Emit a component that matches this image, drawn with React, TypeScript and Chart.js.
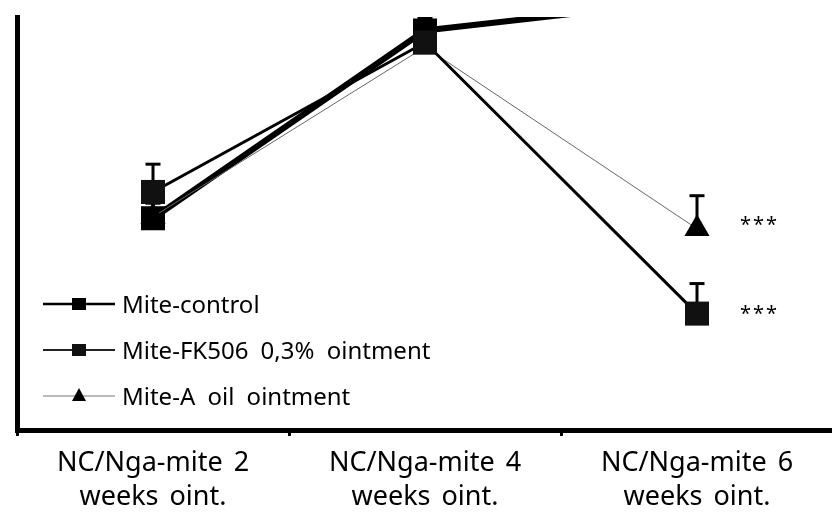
import React, { useEffect, useRef } from 'react';
import { Chart, registerables } from 'chart.js';

Chart.register(...registerables);

// ---------- data ----------
const categories: string[][] = [
  ['NC/Nga-mite 2', 'weeks oint.'],
  ['NC/Nga-mite 4', 'weeks oint.'],
  ['NC/Nga-mite 6', 'weeks oint.'],
];
const seriesNames = ['Mite-control', 'Mite-FK506 0,3% ointment', 'Mite-A oil ointment'];
const controlValues = [2.82, 5.32, 5.73];
const controlErrors = [0.2, 0.17, 0.2];
const fk506Values = [3.17, 5.16, 1.55];
const fk506Errors = [0.37, 0.1, 0.4];
const aOilValues = [2.84, 5.1, 2.68];
const aOilErrors = [0.2, 0.1, 0.44];
const fk506Significance = ['', '', '***'];
const aOilSignificance = ['', '', '***'];
const yMin = 0;
const yMax = 5.5;
const yStep = 1;

const FONT = "'Noto Sans', 'DejaVu Sans', sans-serif";

const spacingPlugin = {
  id: 'wordSpacing',
  beforeDraw(chart: any) {
    try { (chart.ctx as any).wordSpacing = '4px'; } catch (e) {}
  },
};

const errorBarPlugin = {
  id: 'errorBars',
  beforeDatasetsDraw(chart: any) {
    const { ctx, chartArea } = chart;
    const y = chart.scales.y;
    ctx.save();
    ctx.beginPath();
    ctx.rect(chartArea.left, chartArea.top, chartArea.right - chartArea.left, chartArea.bottom - chartArea.top);
    ctx.clip();
    chart.data.datasets.forEach((ds: any, i: number) => {
      const meta = chart.getDatasetMeta(i);
      if (!ds.errors) return;
      meta.data.forEach((pt: any, j: number) => {
        const v = ds.data[j];
        const e = ds.errors[j];
        if (!e) return;
        const px = pt.x;
        const py0 = y.getPixelForValue(v);
        const py1 = y.getPixelForValue(v + e);
        ctx.strokeStyle = '#000';
        ctx.lineWidth = 3;
        ctx.beginPath();
        ctx.moveTo(px, py0);
        ctx.lineTo(px, py1);
        ctx.stroke();
        ctx.beginPath();
        ctx.moveTo(px - 7.5, py1);
        ctx.lineTo(px + 7.5, py1);
        ctx.stroke();
      });
    });
    ctx.restore();
  },
  afterDatasetsDraw(chart: any) {
    const { ctx } = chart;
    const y = chart.scales.y;
    ctx.save();
    ctx.fillStyle = '#000';
    ctx.font = `20px ${FONT}`;
    ctx.textAlign = 'left';
    ctx.textBaseline = 'alphabetic';
    try { (ctx as any).letterSpacing = '2px'; } catch (e) {}
    chart.data.datasets.forEach((ds: any, i: number) => {
      if (!ds.significance) return;
      const meta = chart.getDatasetMeta(i);
      meta.data.forEach((pt: any, j: number) => {
        const s = ds.significance[j];
        if (!s) return;
        const py = y.getPixelForValue(ds.data[j]);
        const visualMid = ds.pointStyle === 'triangle' ? py - ds.pointRadius / 4 : py;
        ctx.fillText(s, pt.x + 43, visualMid + 6);
      });
    });
    ctx.restore();
  },
};

const legendPlugin = {
  id: 'customLegend',
  afterDraw(chart: any) {
    const { ctx } = chart;
    ctx.save();
    try { (ctx as any).wordSpacing = '6px'; } catch (e) {}
    const rows = chart.data.datasets;
    rows.forEach((ds: any, i: number) => {
      const cy = 304 + i * 46;
      ctx.strokeStyle = ds.legendLineColor;
      ctx.lineWidth = ds.legendLineWidth;
      ctx.beginPath();
      ctx.moveTo(43, cy);
      ctx.lineTo(115, cy);
      ctx.stroke();
      ctx.fillStyle = ds.pointBackgroundColor;
      if (ds.pointStyle === 'triangle') {
        ctx.beginPath();
        ctx.moveTo(79, cy - 8);
        ctx.lineTo(86, cy + 5);
        ctx.lineTo(72, cy + 5);
        ctx.closePath();
        ctx.fill();
      } else {
        ctx.fillRect(72, cy - 6, 14, 12);
      }
      ctx.fillStyle = '#000';
      ctx.font = `24px ${FONT}`;
      ctx.textBaseline = 'middle';
      ctx.textAlign = 'left';
      ctx.fillText(ds.label, 122, cy + 2);
    });
    ctx.restore();
  },
};

export default function App() {
  const ref = useRef<HTMLCanvasElement | null>(null);
  useEffect(() => {
    if (!ref.current) return;
    const chart = new Chart(ref.current, {
      type: 'line',
      data: {
        labels: categories,
        datasets: [
          {
            label: seriesNames[0],
            data: controlValues,
            errors: controlErrors,
            order: 2,
            borderColor: '#000',
            borderWidth: 6,
            pointStyle: 'rect',
            pointRadius: 17,
            pointBackgroundColor: '#000',
            pointBorderColor: '#000',
            pointBorderWidth: 0,
            legendLineColor: '#000',
            legendLineWidth: 2.5,
          } as any,
          {
            label: seriesNames[1],
            data: fk506Values,
            errors: fk506Errors,
            significance: fk506Significance,
            order: 0,
            borderColor: '#000',
            borderWidth: 3,
            pointStyle: 'rect',
            pointRadius: 17,
            pointBackgroundColor: '#111',
            pointBorderColor: '#111',
            pointBorderWidth: 0,
            legendLineColor: '#222',
            legendLineWidth: 2,
          } as any,
          {
            label: seriesNames[2],
            data: aOilValues,
            errors: aOilErrors,
            significance: aOilSignificance,
            order: 1,
            borderColor: '#666',
            borderWidth: 1,
            pointStyle: 'triangle',
            pointRadius: 14.5,
            pointBackgroundColor: '#000',
            pointBorderColor: '#000',
            pointBorderWidth: 0,
            legendLineColor: '#777',
            legendLineWidth: 1,
          } as any,
        ],
      },
      options: {
        responsive: false,
        animation: false,
        layout: { padding: { left: 0, right: 12, top: 0, bottom: 0 } },
        plugins: { legend: { display: false }, tooltip: { enabled: false } },
        scales: {
          x: {
            type: 'category',
            offset: true,
            afterFit: (s: any) => { s.height = 94; },
            grid: { display: true, drawOnChartArea: false, drawTicks: true, tickLength: 6, tickWidth: 3, tickColor: '#000', offset: true },
            border: { display: true, color: '#000', width: 5 },
            ticks: {
              color: '#000',
              font: { family: FONT, size: 27, lineHeight: 1.26 },
              padding: 10,
              maxRotation: 0,
              autoSkip: false,
            },
          },
          y: {
            min: yMin,
            max: yMax,
            afterFit: (s: any) => { s.width = 13; },
            grid: { display: true, drawOnChartArea: false, drawTicks: true, tickLength: 2, tickWidth: 2, tickColor: '#000' },
            border: { display: true, color: '#000', width: 5 },
            ticks: { display: false, stepSize: yStep },
          },
        },
      },
      plugins: [spacingPlugin, errorBarPlugin, legendPlugin],
    } as any);
    return () => chart.destroy();
  }, []);
  return (
    <div style={{ position: 'absolute', left: 0, top: 0, width: 832, height: 524, overflow: 'hidden', background: '#fff' }}>
      <canvas ref={ref} width={850} height={524} style={{ width: 850, height: 524, display: 'block' }} />
    </div>
  );
}
